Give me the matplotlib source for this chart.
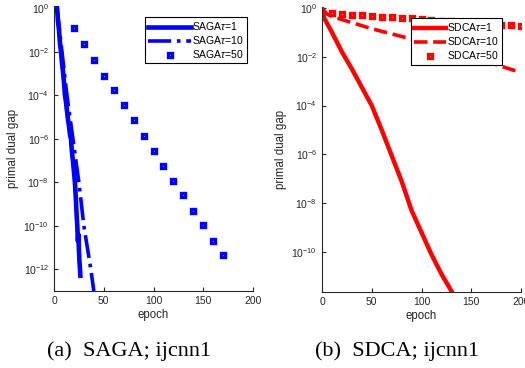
import numpy as np
import matplotlib.pyplot as plt
from matplotlib.ticker import NullLocator

plt.rcParams['font.family'] = ['Liberation Sans', 'DejaVu Sans']
plt.rcParams['mathtext.fontset'] = 'custom'
plt.rcParams['mathtext.rm'] = 'Liberation Sans'
plt.rcParams['mathtext.it'] = 'Liberation Sans:italic'

GRAY = '#262626'

# ── SAGA on ijcnn1 (log10 of primal dual gap) ───────────────────────────────
saga1_epoch = [3, 4, 5, 6, 7, 8, 9, 10, 11, 12, 13, 14, 15, 16, 17, 18, 19,
               20, 21, 22, 22.5, 23, 23.5, 24, 24.5, 25, 25.5, 26, 26.5]
saga1_log = [0.05, -0.6, -1.0, -1.6, -2.0, -2.5, -2.9, -3.4, -4.0, -4.3, -4.7,
             -5.1, -5.4, -5.8, -6.0, -6.6, -7.0, -7.5, -8.0, -8.8, -9.3, -9.7,
             -10.1, -10.7, -10.4, -11.1, -11.6, -11.9, -12.3]

saga10_epoch = [3, 8, 13, 19, 25, 30, 37, 40]
saga10_log = [0.05, -2.0, -4.0, -6.0, -8.0, -10.0, -12.0, -13.0]

saga50_epoch = [20, 30, 40, 50, 60, 70, 80, 90, 100, 110, 120, 130, 140, 150,
                160, 170]
saga50_log = [-0.91, -1.63, -2.38, -3.09, -3.77, -4.46, -5.15, -5.85, -6.54,
              -7.23, -7.92, -8.59, -9.31, -9.97, -10.68, -11.36]

# ── SDCA on ijcnn1 ──────────────────────────────────────────────────────────
sdca1_epoch = [0, 2, 10, 20, 30, 40, 50, 60, 70, 80, 90, 100, 110, 120, 130]
sdca1_log = [0.0, -0.4, -1.0, -1.8, -2.5, -3.25, -4.0, -5.0, -6.05, -7.1,
             -8.3, -9.2, -10.1, -10.9, -11.6]

sdca10_epoch = [0, 5, 10, 50, 100, 150, 198]
sdca10_log = [0.0, -0.25, -0.35, -0.85, -1.38, -2.0, -2.62]

sdca50_epoch = list(range(10, 201, 10))
sdca50_log = [-0.22, -0.25, -0.27, -0.30, -0.33, -0.35, -0.38, -0.40, -0.43,
              -0.46, -0.49, -0.52, -0.54, -0.57, -0.60, -0.62, -0.65, -0.68,
              -0.70, -0.73]

fig = plt.figure(figsize=(5.25, 3.68), dpi=100)
ax1 = fig.add_axes([54 / 525, 77 / 368, 199 / 525, 284.8 / 368])
ax2 = fig.add_axes([322 / 525, 76 / 368, 199 / 525, 285 / 368])


def pw(v):
    return 10.0 ** np.array(v)


mk = dict(ms=3.4, mew=2.4, mfc='white')

ax1.plot(saga1_epoch, pw(saga1_log), '-', color='blue', lw=3.3,
         label=r'SAGA$\tau$=1')
ax1.plot(saga10_epoch, pw(saga10_log), '-.', color='blue', lw=2.6,
         label=r'SAGA$\tau$=10')
ax1.plot(saga50_epoch, pw(saga50_log), 's', color='blue', mec='blue',
         label=r'SAGA$\tau$=50', **mk)

ax2.plot(sdca1_epoch, pw(sdca1_log), '-', color='red', lw=3.2,
         label=r'SDCA$\tau$=1')
ax2.plot(sdca10_epoch, pw(sdca10_log), '--', color='red', lw=2.6,
         label=r'SDCA$\tau$=10')
ax2.plot(sdca50_epoch, pw(sdca50_log), 's', color='red', mec='red',
         label=r'SDCA$\tau$=50', **mk)

for ax in (ax1, ax2):
    ax.set_yscale('log')
    ax.set_xlim(0, 200)
    ax.set_xticks([0, 50, 100, 150, 200])
    ax.spines['top'].set_visible(False)
    ax.spines['right'].set_visible(False)
    for s in ('left', 'bottom'):
        ax.spines[s].set_color(GRAY)
        ax.spines[s].set_linewidth(0.8)
    ax.tick_params(direction='in', length=3, width=0.8, colors=GRAY,
                   labelsize=7.5, labelcolor=GRAY)
    ax.set_xlabel('epoch', fontsize=8.3, color=GRAY, labelpad=2)
    ax.set_ylabel('primal dual gap', fontsize=8.3, color=GRAY, labelpad=3)

ax1.set_yticks(10.0 ** np.arange(0, -13, -2))
ax2.set_yticks(10.0 ** np.arange(0, -11, -2))
ax1.set_ylim(1e-13, 10 ** 0.1)
ax2.set_ylim(10 ** -11.64, 10 ** 0.04)
for ax in (ax1, ax2):
    ax.yaxis.set_minor_locator(NullLocator())

leg_kw = dict(loc='upper right', fontsize=7.5, numpoints=1,
              handletextpad=0.1, labelspacing=0.2, borderpad=0.3,
              borderaxespad=0, fancybox=False, framealpha=1,
              edgecolor='black')
l1 = ax1.legend(bbox_to_anchor=(0.97, 0.962), handlelength=4.1, **leg_kw)
l2 = ax2.legend(bbox_to_anchor=(0.905, 0.961), handlelength=3.1, **leg_kw)
for l in (l1, l2):
    l.get_frame().set_linewidth(0.8)
    l.set_zorder(5)

fig.text(129 / 525, 1 - 351 / 368, '(a)  SAGA; ijcnn1', ha='center',
         va='center', fontsize=16, family='Liberation Serif')
fig.text(397 / 525, 1 - 351 / 368, '(b)  SDCA; ijcnn1', ha='center',
         va='center', fontsize=16, family='Liberation Serif')

fig.savefig('out.png', dpi=100)
